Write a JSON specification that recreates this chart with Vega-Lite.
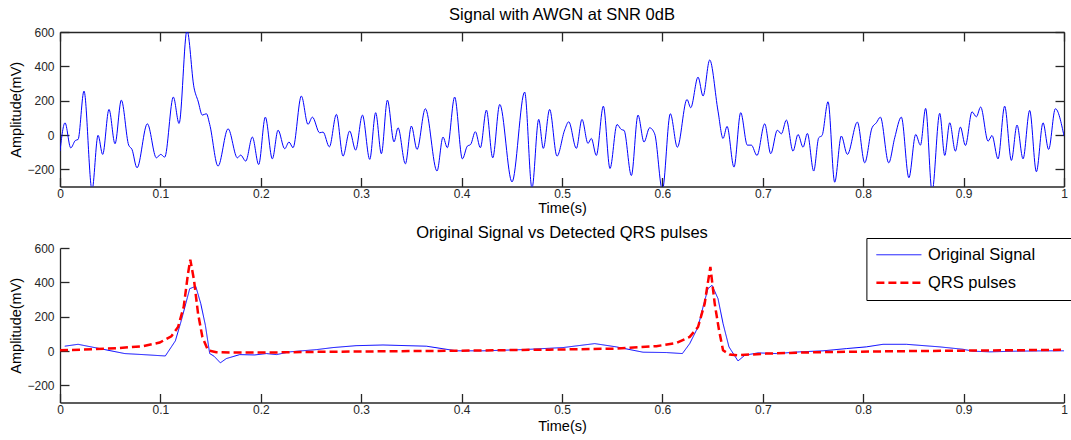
{
  "$schema": "https://vega.github.io/schema/vega-lite/v6.json",
  "background": "white",
  "padding": {"left": 8, "top": 7, "right": 1, "bottom": 1},
  "config": {
    "font": "Liberation Sans",
    "view": {"stroke": null},
    "axis": {
      "grid": false,
      "domainColor": "#262626",
      "tickColor": "#262626",
      "labelColor": "#262626",
      "titleColor": "#000000",
      "labelFont": "Liberation Sans",
      "titleFont": "Liberation Sans",
      "labelFontSize": 12,
      "titleFontSize": 14.5,
      "titleFontWeight": "normal",
      "tickSize": -9,
      "domainWidth": 1.3,
      "tickWidth": 1.3
    },
    "title": {"font": "Liberation Sans", "fontSize": 16.5, "fontWeight": "normal", "color": "#000000", "anchor": "middle", "frame": "group", "baseline": "alphabetic"}
  },
  "datasets": {
    "noisy": [
      {"t": 0.0, "v": -94}, {"t": 0.005, "v": 71}, {"t": 0.0107, "v": -75}, {"t": 0.0153, "v": -32}, {"t": 0.018, "v": -26},
      {"t": 0.0239, "v": 256}, {"t": 0.0319, "v": -320}, {"t": 0.0379, "v": -2}, {"t": 0.0425, "v": -113}, {"t": 0.0488, "v": 149},
      {"t": 0.0548, "v": -51}, {"t": 0.0611, "v": 203}, {"t": 0.0684, "v": -59}, {"t": 0.0717, "v": -84}, {"t": 0.0767, "v": -191},
      {"t": 0.087, "v": 65}, {"t": 0.096, "v": -133}, {"t": 0.1003, "v": -113}, {"t": 0.1043, "v": -129}, {"t": 0.1129, "v": 221},
      {"t": 0.1186, "v": 67}, {"t": 0.1265, "v": 610}, {"t": 0.1335, "v": 275}, {"t": 0.1375, "v": 198}, {"t": 0.1418, "v": 116},
      {"t": 0.1458, "v": 124}, {"t": 0.1491, "v": 62}, {"t": 0.1574, "v": -181}, {"t": 0.1674, "v": 36}, {"t": 0.1767, "v": -133},
      {"t": 0.1799, "v": -117}, {"t": 0.185, "v": -152}, {"t": 0.1916, "v": -12}, {"t": 0.1979, "v": -172}, {"t": 0.2045, "v": 104},
      {"t": 0.2115, "v": -139}, {"t": 0.2172, "v": 28}, {"t": 0.2238, "v": -80}, {"t": 0.2281, "v": -41}, {"t": 0.2321, "v": -74},
      {"t": 0.2404, "v": 227}, {"t": 0.247, "v": 62}, {"t": 0.2514, "v": 104}, {"t": 0.2586, "v": 13}, {"t": 0.262, "v": 17},
      {"t": 0.2683, "v": -69}, {"t": 0.2753, "v": 120}, {"t": 0.2819, "v": -123}, {"t": 0.2885, "v": 23}, {"t": 0.2945, "v": -88},
      {"t": 0.3012, "v": 116}, {"t": 0.3085, "v": -142}, {"t": 0.3144, "v": 130}, {"t": 0.3201, "v": -109}, {"t": 0.3261, "v": 203},
      {"t": 0.3327, "v": -40}, {"t": 0.3367, "v": 42}, {"t": 0.344, "v": -168}, {"t": 0.35, "v": 52}, {"t": 0.3556, "v": -84},
      {"t": 0.3639, "v": 153}, {"t": 0.3755, "v": -210}, {"t": 0.3815, "v": -12}, {"t": 0.3858, "v": -74}, {"t": 0.3931, "v": 221},
      {"t": 0.4008, "v": -139}, {"t": 0.4057, "v": -65}, {"t": 0.409, "v": -55}, {"t": 0.4137, "v": 19}, {"t": 0.4187, "v": -74},
      {"t": 0.4247, "v": 145}, {"t": 0.431, "v": -133}, {"t": 0.438, "v": 178}, {"t": 0.4502, "v": -273}, {"t": 0.4628, "v": 250},
      {"t": 0.4701, "v": -310}, {"t": 0.4768, "v": 91}, {"t": 0.4814, "v": -78}, {"t": 0.4877, "v": 149}, {"t": 0.495, "v": -123},
      {"t": 0.5027, "v": 30}, {"t": 0.5067, "v": 77}, {"t": 0.5143, "v": -78}, {"t": 0.5199, "v": 91}, {"t": 0.5259, "v": -49},
      {"t": 0.5292, "v": -20}, {"t": 0.5342, "v": -119}, {"t": 0.5412, "v": 168}, {"t": 0.5478, "v": -195}, {"t": 0.5548, "v": 61},
      {"t": 0.5591, "v": 32}, {"t": 0.5618, "v": 27}, {"t": 0.5691, "v": -236}, {"t": 0.5757, "v": 116}, {"t": 0.5817, "v": -41},
      {"t": 0.5873, "v": 42}, {"t": 0.5923, "v": 7}, {"t": 0.6, "v": -320}, {"t": 0.6079, "v": 124}, {"t": 0.6149, "v": -71},
      {"t": 0.6245, "v": 207}, {"t": 0.6282, "v": 159}, {"t": 0.6355, "v": 337}, {"t": 0.6405, "v": 227}, {"t": 0.6471, "v": 437},
      {"t": 0.6554, "v": 139}, {"t": 0.6604, "v": -20}, {"t": 0.6644, "v": 50}, {"t": 0.6713, "v": -187}, {"t": 0.678, "v": 130},
      {"t": 0.6846, "v": -59}, {"t": 0.6886, "v": -59}, {"t": 0.6942, "v": -119}, {"t": 0.7019, "v": 65}, {"t": 0.7079, "v": -109},
      {"t": 0.7145, "v": 28}, {"t": 0.7185, "v": 7}, {"t": 0.7235, "v": 87}, {"t": 0.7301, "v": -94}, {"t": 0.7351, "v": 3},
      {"t": 0.7401, "v": -71}, {"t": 0.7444, "v": 9}, {"t": 0.7507, "v": -210}, {"t": 0.7557, "v": -16}, {"t": 0.759, "v": -3},
      {"t": 0.765, "v": 194}, {"t": 0.7716, "v": -275}, {"t": 0.7782, "v": -6}, {"t": 0.7842, "v": -113}, {"t": 0.7942, "v": 75},
      {"t": 0.8015, "v": -162}, {"t": 0.8088, "v": 42}, {"t": 0.8131, "v": 71}, {"t": 0.8171, "v": 104}, {"t": 0.8254, "v": -162},
      {"t": 0.8314, "v": -16}, {"t": 0.838, "v": 104}, {"t": 0.8455, "v": -249}, {"t": 0.8523, "v": 3}, {"t": 0.857, "v": -59},
      {"t": 0.8622, "v": 155}, {"t": 0.8686, "v": -330}, {"t": 0.8762, "v": 126}, {"t": 0.8812, "v": -119}, {"t": 0.8862, "v": 71},
      {"t": 0.8918, "v": -94}, {"t": 0.8968, "v": 46}, {"t": 0.9018, "v": -61}, {"t": 0.9084, "v": 135}, {"t": 0.9127, "v": 106},
      {"t": 0.917, "v": 163}, {"t": 0.9244, "v": -36}, {"t": 0.9283, "v": -3}, {"t": 0.9343, "v": -139}, {"t": 0.9409, "v": 168},
      {"t": 0.9476, "v": -148}, {"t": 0.9532, "v": 58}, {"t": 0.9592, "v": -139}, {"t": 0.9658, "v": 143}, {"t": 0.9725, "v": -214},
      {"t": 0.9791, "v": 71}, {"t": 0.9847, "v": -84}, {"t": 0.9914, "v": 153}, {"t": 1.0, "v": -5}
    ],
    "clean": [
      {"t": 0.0047, "v": 28, "series": "Original Signal"}, {"t": 0.018, "v": 39, "series": "Original Signal"},
      {"t": 0.0396, "v": 14, "series": "Original Signal"}, {"t": 0.0645, "v": -15, "series": "Original Signal"},
      {"t": 0.0827, "v": -21, "series": "Original Signal"}, {"t": 0.1049, "v": -29, "series": "Original Signal"},
      {"t": 0.1149, "v": 59, "series": "Original Signal"}, {"t": 0.1209, "v": 179, "series": "Original Signal"},
      {"t": 0.1292, "v": 363, "series": "Original Signal"}, {"t": 0.1352, "v": 377, "series": "Original Signal"},
      {"t": 0.1402, "v": 276, "series": "Original Signal"}, {"t": 0.1448, "v": 150, "series": "Original Signal"},
      {"t": 0.1491, "v": -15, "series": "Original Signal"}, {"t": 0.1534, "v": -30, "series": "Original Signal"},
      {"t": 0.1597, "v": -69, "series": "Original Signal"}, {"t": 0.1657, "v": -44, "series": "Original Signal"},
      {"t": 0.179, "v": -21, "series": "Original Signal"}, {"t": 0.1939, "v": -23, "series": "Original Signal"},
      {"t": 0.2056, "v": -15, "series": "Original Signal"}, {"t": 0.2156, "v": -21, "series": "Original Signal"},
      {"t": 0.2288, "v": -5, "series": "Original Signal"}, {"t": 0.2554, "v": 8, "series": "Original Signal"},
      {"t": 0.272, "v": 20, "series": "Original Signal"}, {"t": 0.295, "v": 31, "series": "Original Signal"},
      {"t": 0.3217, "v": 35, "series": "Original Signal"}, {"t": 0.3649, "v": 28, "series": "Original Signal"},
      {"t": 0.3948, "v": 1, "series": "Original Signal"}, {"t": 0.4213, "v": 1, "series": "Original Signal"},
      {"t": 0.4612, "v": 8, "series": "Original Signal"}, {"t": 0.501, "v": 20, "series": "Original Signal"},
      {"t": 0.5326, "v": 43, "series": "Original Signal"}, {"t": 0.5541, "v": 24, "series": "Original Signal"},
      {"t": 0.5807, "v": -7, "series": "Original Signal"}, {"t": 0.604, "v": -9, "series": "Original Signal"},
      {"t": 0.6199, "v": -15, "series": "Original Signal"}, {"t": 0.6272, "v": 43, "series": "Original Signal"},
      {"t": 0.6355, "v": 140, "series": "Original Signal"}, {"t": 0.6405, "v": 257, "series": "Original Signal"},
      {"t": 0.6454, "v": 363, "series": "Original Signal"}, {"t": 0.6494, "v": 383, "series": "Original Signal"},
      {"t": 0.6554, "v": 305, "series": "Original Signal"}, {"t": 0.6604, "v": 160, "series": "Original Signal"},
      {"t": 0.6663, "v": 24, "series": "Original Signal"}, {"t": 0.6753, "v": -58, "series": "Original Signal"},
      {"t": 0.682, "v": -25, "series": "Original Signal"}, {"t": 0.6952, "v": -11, "series": "Original Signal"},
      {"t": 0.7135, "v": -15, "series": "Original Signal"}, {"t": 0.7368, "v": -5, "series": "Original Signal"},
      {"t": 0.76, "v": 1, "series": "Original Signal"}, {"t": 0.7832, "v": 14, "series": "Original Signal"},
      {"t": 0.8031, "v": 24, "series": "Original Signal"}, {"t": 0.8197, "v": 39, "series": "Original Signal"},
      {"t": 0.843, "v": 39, "series": "Original Signal"}, {"t": 0.8762, "v": 24, "series": "Original Signal"},
      {"t": 0.8994, "v": 10, "series": "Original Signal"}, {"t": 0.9094, "v": -1, "series": "Original Signal"},
      {"t": 0.926, "v": -5, "series": "Original Signal"}, {"t": 0.9526, "v": -1, "series": "Original Signal"},
      {"t": 0.9825, "v": 1, "series": "Original Signal"}, {"t": 1.0, "v": 1, "series": "Original Signal"},
      {"t": 0.0, "v": 4, "series": "QRS pulses"}, {"t": 0.0229, "v": 8, "series": "QRS pulses"},
      {"t": 0.0561, "v": 16, "series": "QRS pulses"}, {"t": 0.0827, "v": 28, "series": "QRS pulses"},
      {"t": 0.0993, "v": 49, "series": "QRS pulses"}, {"t": 0.1109, "v": 86, "series": "QRS pulses"},
      {"t": 0.1176, "v": 140, "series": "QRS pulses"}, {"t": 0.1232, "v": 257, "series": "QRS pulses"},
      {"t": 0.1275, "v": 451, "series": "QRS pulses"}, {"t": 0.1298, "v": 532, "series": "QRS pulses"},
      {"t": 0.1335, "v": 412, "series": "QRS pulses"}, {"t": 0.1375, "v": 218, "series": "QRS pulses"},
      {"t": 0.1418, "v": 82, "series": "QRS pulses"}, {"t": 0.1474, "v": 4, "series": "QRS pulses"},
      {"t": 0.1557, "v": -7, "series": "QRS pulses"}, {"t": 0.1723, "v": -9, "series": "QRS pulses"},
      {"t": 0.2056, "v": -9, "series": "QRS pulses"}, {"t": 0.2554, "v": -5, "series": "QRS pulses"},
      {"t": 0.295, "v": -3, "series": "QRS pulses"}, {"t": 0.3882, "v": 1, "series": "QRS pulses"},
      {"t": 0.4877, "v": 8, "series": "QRS pulses"}, {"t": 0.5541, "v": 14, "series": "QRS pulses"},
      {"t": 0.594, "v": 28, "series": "QRS pulses"}, {"t": 0.6139, "v": 47, "series": "QRS pulses"},
      {"t": 0.6272, "v": 82, "series": "QRS pulses"}, {"t": 0.6355, "v": 140, "series": "QRS pulses"},
      {"t": 0.6421, "v": 276, "series": "QRS pulses"}, {"t": 0.644, "v": 350, "series": "QRS pulses"},
      {"t": 0.6478, "v": 490, "series": "QRS pulses"}, {"t": 0.6521, "v": 276, "series": "QRS pulses"},
      {"t": 0.6564, "v": 121, "series": "QRS pulses"}, {"t": 0.6604, "v": 4, "series": "QRS pulses"},
      {"t": 0.667, "v": -21, "series": "QRS pulses"}, {"t": 0.6753, "v": -25, "series": "QRS pulses"},
      {"t": 0.7035, "v": -15, "series": "QRS pulses"}, {"t": 0.7534, "v": -7, "series": "QRS pulses"},
      {"t": 0.8364, "v": -1, "series": "QRS pulses"}, {"t": 0.9194, "v": 3, "series": "QRS pulses"},
      {"t": 1.0, "v": 7, "series": "QRS pulses"}
    ]
  },
  "spacing": 61,
  "bounds": "flush",
  "resolve": {
    "scale": {"color": "independent", "strokeDash": "independent", "strokeWidth": "independent"},
    "legend": {"color": "independent", "strokeDash": "independent", "strokeWidth": "independent"}
  },
  "vconcat": [
    {
      "width": 1004,
      "height": 154.5,
      "title": {"text": "Signal with AWGN at SNR 0dB", "offset": 2.5},
      "data": {"name": "noisy"},
      "layer": [
        {
          "mark": {"type": "line", "color": "#0000FF", "strokeWidth": 1, "interpolate": "monotone", "clip": true},
          "encoding": {
            "x": {"field": "t", "type": "quantitative", "scale": {"domain": [0, 1], "nice": false},
              "axis": {"orient": "bottom", "values": [0, 0.1, 0.2, 0.3, 0.4, 0.5, 0.6, 0.7, 0.8, 0.9, 1], "format": "~g", "labelFlush": false, "labelPadding": 11, "title": "Time(s)", "titleX": 502, "titleY": 25.5, "titleBaseline": "alphabetic"}},
            "y": {"field": "v", "type": "quantitative", "scale": {"domain": [-300, 600], "nice": false, "zero": false},
              "axis": {"orient": "left", "values": [-200, 0, 200, 400, 600], "labelPadding": 15, "title": "Amplitude(mV)", "titleX": -39.5, "titleBaseline": "alphabetic"}}
          }
        },
        {
          "mark": {"type": "line", "opacity": 0},
          "encoding": {
            "x": {"field": "t", "type": "quantitative", "scale": {"domain": [0, 1], "nice": false},
              "axis": {"orient": "top", "values": [0, 0.1, 0.2, 0.3, 0.4, 0.5, 0.6, 0.7, 0.8, 0.9, 1], "labels": false, "title": null}},
            "y": {"field": "v", "type": "quantitative", "scale": {"domain": [-300, 600], "nice": false, "zero": false},
              "axis": {"orient": "right", "values": [-200, 0, 200, 400, 600], "labels": false, "title": null}}
          }
        }
      ],
      "resolve": {"axis": {"x": "independent", "y": "independent"}}
    },
    {
      "width": 1004,
      "height": 154.5,
      "title": {"text": "Original Signal vs Detected QRS pulses", "offset": -3.5},
      "data": {"name": "clean"},
      "mark": {"type": "line", "clip": true},
      "encoding": {
        "x": {"field": "t", "type": "quantitative", "scale": {"domain": [0, 1], "nice": false},
          "axis": {"orient": "bottom", "values": [0, 0.1, 0.2, 0.3, 0.4, 0.5, 0.6, 0.7, 0.8, 0.9, 1], "format": "~g", "labelFlush": false, "labelPadding": 11, "title": "Time(s)", "titleX": 502, "titleY": 28, "titleBaseline": "alphabetic"}},
        "y": {"field": "v", "type": "quantitative", "scale": {"domain": [-300, 600], "nice": false, "zero": false},
          "axis": {"orient": "left", "values": [-200, 0, 200, 400, 600], "labelPadding": 15, "title": "Amplitude(mV)", "titleX": -39.5, "titleBaseline": "alphabetic"}},
        "color": {"field": "series", "type": "nominal",
          "scale": {"domain": ["Original Signal", "QRS pulses"], "range": ["#0000FF", "#FF0000"]},
          "legend": {"title": null, "orient": "none", "legendX": 806.4, "legendY": -10, "strokeColor": "#000000", "fillColor": "#FFFFFF", "padding": 8.5, "labelFont": "Liberation Sans", "labelFontSize": 16.5, "labelColor": "#000000", "symbolType": "stroke", "symbolSize": 2025, "clipHeight": 16.5, "labelOffset": 5, "rowPadding": 11, "labelExpr": "datum.label + '\u00a0\u00a0\u00a0\u00a0\u00a0\u00a0\u200b'"}},
        "strokeDash": {"field": "series", "type": "nominal",
          "scale": {"domain": ["Original Signal", "QRS pulses"], "range": [[1, 0], [8, 4]]}},
        "strokeWidth": {"field": "series", "type": "nominal",
          "scale": {"type": "point", "domain": ["Original Signal", "QRS pulses"], "range": [1, 2.5], "padding": 0}}
      }
    }
  ]
}
